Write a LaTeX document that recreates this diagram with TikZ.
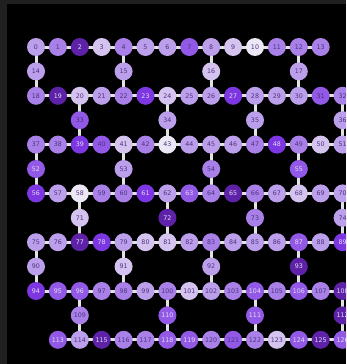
\documentclass[tikz,border=0pt]{standalone}
\usepackage{fontspec}
\newfontfamily\qf{DejaVu Sans}
\pgfdeclarelayer{bg}
\pgfdeclarelayer{edges}
\pgfsetlayers{bg,edges,main}
\definecolor{frame}{HTML}{202020}
\definecolor{edgec}{HTML}{E2E2E2}
\definecolor{cW}{HTML}{ECE7F4}
\definecolor{cL}{HTML}{D4C3EF}
\definecolor{cP}{HTML}{BC9FEB}
\definecolor{cM}{HTML}{A880E8}
\definecolor{cD}{HTML}{9258E6}
\definecolor{cV}{HTML}{7C36E2}
\definecolor{cX}{HTML}{5E22A8}
\definecolor{tdark}{HTML}{4E3382}
\definecolor{tlight}{HTML}{E6DCF6}
\tikzset{
  qnode/.style={circle,minimum size=18pt,inner sep=0pt,font=\qf\fontsize{6.3}{7}\selectfont},
  qW/.style={fill=cW,text=tdark},
  qL/.style={fill=cL,text=tdark},
  qP/.style={fill=cP,text=tdark},
  qM/.style={fill=cM,text=tdark},
  qD/.style={fill=cD,text=tdark},
  qDl/.style={fill=cD,text=tlight},
  qV/.style={fill=cV,text=tlight},
  qX/.style={fill=cX,text=tlight},
  edge/.style={draw=edgec,line width=3pt}
}
\newcommand\Q[4]{\node[qnode,#4] (q#1) at ({36+21.9*#2},{47+24.4*#3}) {#1};}
\begin{document}
\begin{tikzpicture}[x=1pt,y=-1pt]
\useasboundingbox (0,0) rectangle (346,364);
\clip (0,0) rectangle (346,364);
\begin{pgfonlayer}{bg}
\fill[frame] (0,0) rectangle (346,364);
\fill[black] (7,4) rectangle (346,364);
\end{pgfonlayer}
% row 0
\Q{0}{0}{0}{qP}\Q{1}{1}{0}{qM}\Q{2}{2}{0}{qX}\Q{3}{3}{0}{qL}\Q{4}{4}{0}{qM}
\Q{5}{5}{0}{qP}\Q{6}{6}{0}{qP}\Q{7}{7}{0}{qD}\Q{8}{8}{0}{qP}\Q{9}{9}{0}{qL}
\Q{10}{10}{0}{qW}\Q{11}{11}{0}{qM}\Q{12}{12}{0}{qM}\Q{13}{13}{0}{qM}
% bridges 1
\Q{14}{0}{1}{qP}\Q{15}{4}{1}{qP}\Q{16}{8}{1}{qL}\Q{17}{12}{1}{qP}
% row 2
\Q{18}{0}{2}{qM}\Q{19}{1}{2}{qX}\Q{20}{2}{2}{qL}\Q{21}{3}{2}{qP}\Q{22}{4}{2}{qM}
\Q{23}{5}{2}{qV}\Q{24}{6}{2}{qL}\Q{25}{7}{2}{qP}\Q{26}{8}{2}{qP}\Q{27}{9}{2}{qV}
\Q{28}{10}{2}{qP}\Q{29}{11}{2}{qP}\Q{30}{12}{2}{qP}\Q{31}{13}{2}{qD}\Q{32}{14}{2}{qM}
% bridges 3
\Q{33}{2}{3}{qD}\Q{34}{6}{3}{qP}\Q{35}{10}{3}{qP}\Q{36}{14}{3}{qP}
% row 4
\Q{37}{0}{4}{qM}\Q{38}{1}{4}{qM}\Q{39}{2}{4}{qV}\Q{40}{3}{4}{qD}\Q{41}{4}{4}{qL}
\Q{42}{5}{4}{qM}\Q{43}{6}{4}{qW}\Q{44}{7}{4}{qP}\Q{45}{8}{4}{qP}\Q{46}{9}{4}{qP}
\Q{47}{10}{4}{qM}\Q{48}{11}{4}{qV}\Q{49}{12}{4}{qM}\Q{50}{13}{4}{qL}\Q{51}{14}{4}{qP}
% bridges 5
\Q{52}{0}{5}{qDl}\Q{53}{4}{5}{qP}\Q{54}{8}{5}{qM}\Q{55}{12}{5}{qDl}
% row 6
\Q{56}{0}{6}{qV}\Q{57}{1}{6}{qP}\Q{58}{2}{6}{qW}\Q{59}{3}{6}{qM}\Q{60}{4}{6}{qM}
\Q{61}{5}{6}{qV}\Q{62}{6}{6}{qP}\Q{63}{7}{6}{qDl}\Q{64}{8}{6}{qM}\Q{65}{9}{6}{qX}
\Q{66}{10}{6}{qM}\Q{67}{11}{6}{qP}\Q{68}{12}{6}{qL}\Q{69}{13}{6}{qP}\Q{70}{14}{6}{qP}
% bridges 7
\Q{71}{2}{7}{qL}\Q{72}{6}{7}{qX}\Q{73}{10}{7}{qM}\Q{74}{14}{7}{qP}
% row 8
\Q{75}{0}{8}{qP}\Q{76}{1}{8}{qP}\Q{77}{2}{8}{qX}\Q{78}{3}{8}{qV}\Q{79}{4}{8}{qP}
\Q{80}{5}{8}{qL}\Q{81}{6}{8}{qL}\Q{82}{7}{8}{qP}\Q{83}{8}{8}{qM}\Q{84}{9}{8}{qP}
\Q{85}{10}{8}{qP}\Q{86}{11}{8}{qP}\Q{87}{12}{8}{qDl}\Q{88}{13}{8}{qP}\Q{89}{14}{8}{qV}
% bridges 9
\Q{90}{0}{9}{qP}\Q{91}{4}{9}{qL}\Q{92}{8}{9}{qP}\Q{93}{12}{9}{qX}
% row 10
\Q{94}{0}{10}{qV}\Q{95}{1}{10}{qDl}\Q{96}{2}{10}{qDl}\Q{97}{3}{10}{qM}\Q{98}{4}{10}{qM}
\Q{99}{5}{10}{qP}\Q{100}{6}{10}{qM}\Q{101}{7}{10}{qL}\Q{102}{8}{10}{qP}\Q{103}{9}{10}{qM}
\Q{104}{10}{10}{qDl}\Q{105}{11}{10}{qM}\Q{106}{12}{10}{qDl}\Q{107}{13}{10}{qM}\Q{108}{14}{10}{qX}
% bridges 11
\Q{109}{2}{11}{qM}\Q{110}{6}{11}{qDl}\Q{111}{10}{11}{qDl}\Q{112}{14}{11}{qX}
% row 12
\Q{113}{1}{12}{qDl}\Q{114}{2}{12}{qP}\Q{115}{3}{12}{qX}\Q{116}{4}{12}{qM}\Q{117}{5}{12}{qM}
\Q{118}{6}{12}{qDl}\Q{119}{7}{12}{qDl}\Q{120}{8}{12}{qM}\Q{121}{9}{12}{qD}\Q{122}{10}{12}{qM}
\Q{123}{11}{12}{qL}\Q{124}{12}{12}{qDl}\Q{125}{13}{12}{qX}\Q{126}{14}{12}{qDl}
\begin{pgfonlayer}{edges}
\foreach \s/\e in {0/13,18/32,37/51,56/70,75/89,94/108,113/126}{
  \pgfmathtruncatemacro\last{\e-1}
  \foreach \i in {\s,...,\last}{
    \pgfmathtruncatemacro\j{\i+1}
    \draw[edge] (q\i.center) -- (q\j.center);
  }
}
\foreach \a/\b/\c in {0/14/18,4/15/22,8/16/26,12/17/30,
  20/33/39,24/34/43,28/35/47,32/36/51,
  37/52/56,41/53/60,45/54/64,49/55/68,
  58/71/77,62/72/81,66/73/85,70/74/89,
  75/90/94,79/91/98,83/92/102,87/93/106,
  96/109/114,100/110/118,104/111/122,108/112/126}{
  \draw[edge] (q\a.center) -- (q\b.center) -- (q\c.center);
}
\end{pgfonlayer}
\end{tikzpicture}
\end{document}
